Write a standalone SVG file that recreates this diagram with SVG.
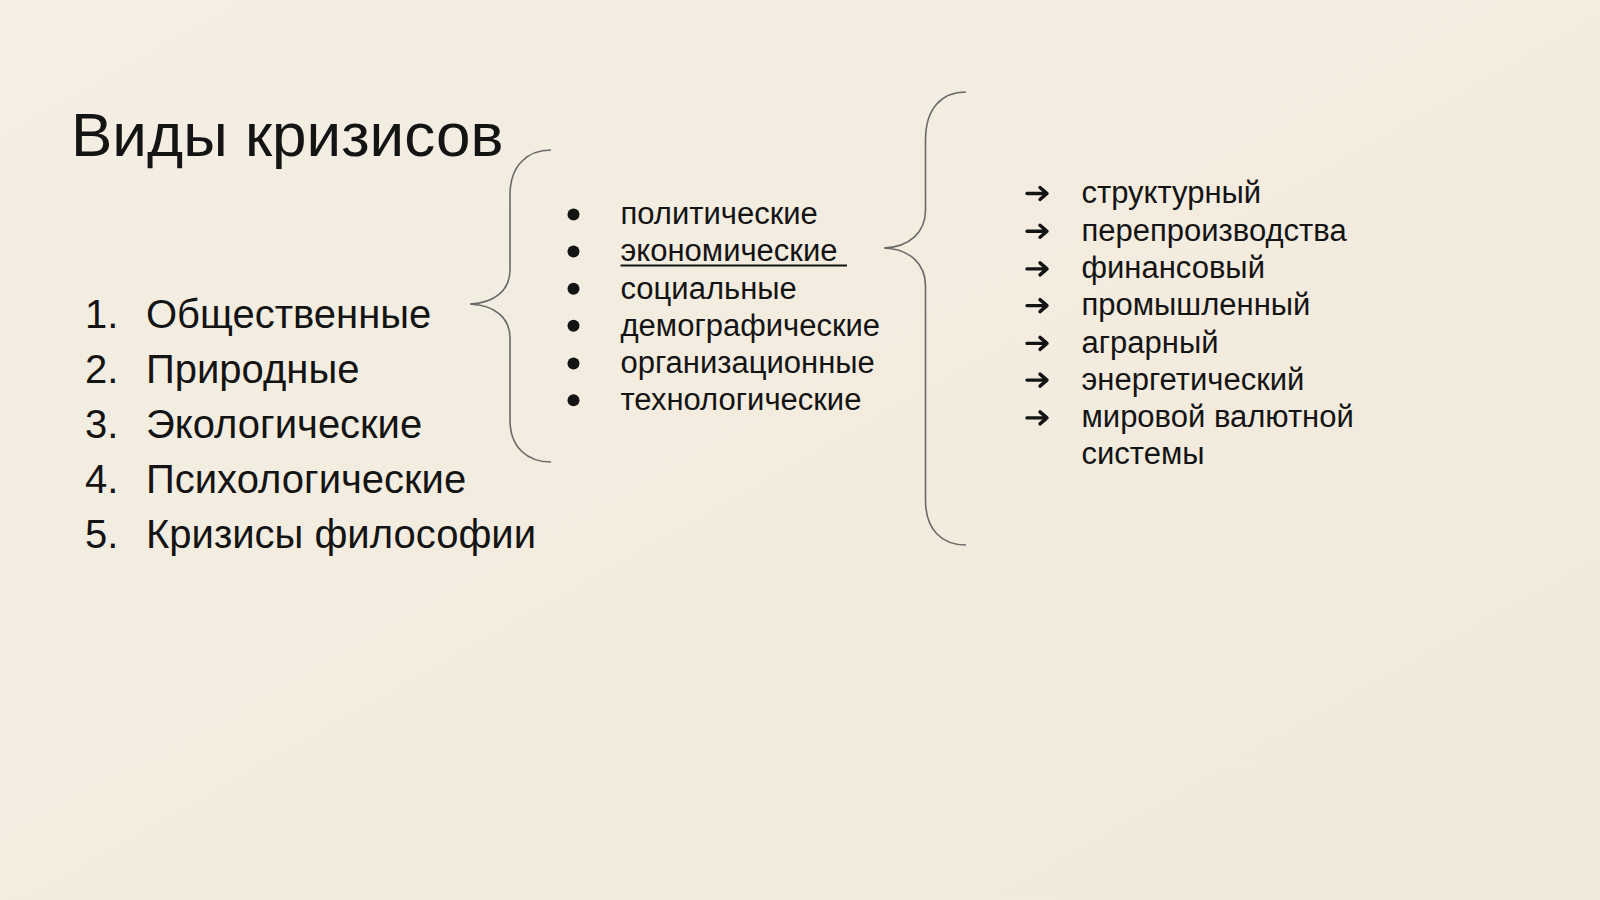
<svg xmlns="http://www.w3.org/2000/svg" width="1600" height="900" viewBox="0 0 1600 900">
<defs>
<style>
.t{font-family:"Liberation Sans",Arial,sans-serif;fill:#141414}
.title{font-size:62px}
.big{font-size:40px}
.mid{font-size:31px}
.brace{fill:none;stroke:#6a6a6a;stroke-width:1.6}
.arr{fill:none;stroke:#141414;stroke-width:3.4;stroke-linecap:round;stroke-linejoin:round}
</style>
<linearGradient id="bg" x1="0" y1="0" x2="1" y2="1">
<stop offset="0" stop-color="#f4eee3"/>
<stop offset="1" stop-color="#f1e9da"/>
</linearGradient>
</defs>
<rect width="1600" height="900" fill="url(#bg)"/>
<g id="title"><text class="t title" x="71" y="156">Виды кризисов</text></g>
<g id="list-main" class="t big">
<text x="85" y="327.5">1.</text><text x="146" y="327.5">Общественные</text>
<text x="85" y="382.6">2.</text><text x="146" y="382.6">Природные</text>
<text x="85" y="437.7">3.</text><text x="146" y="437.7">Экологические</text>
<text x="85" y="492.8">4.</text><text x="146" y="492.8">Психологические</text>
<text x="85" y="547.9">5.</text><text x="146" y="547.9">Кризисы философии</text>
</g>
<g id="connectors">
<path id="brace1" class="brace" d="M551,150 C528,150 510,165 510,195 L510,270 C510,290 495,303 470,304 C495,305 510,318 510,338 L510,420 C510,448 528,462 551,462"/>
<path id="brace2" class="brace" d="M966,92 C942,92 925.5,108 925.5,140 L925.5,210 C925.5,232 910,247 884,248 C910,249 925.5,264 925.5,286 L925.5,500 C925.5,530 942,545 966,545"/>
</g>
<g id="list-social">
<g fill="#141414">
<circle cx="573.5" cy="214.5" r="6"/>
<circle cx="573.5" cy="251.5" r="6"/>
<circle cx="573.5" cy="288.8" r="6"/>
<circle cx="573.5" cy="325.7" r="6"/>
<circle cx="573.5" cy="363.4" r="6"/>
<circle cx="573.5" cy="400.2" r="6"/>
</g>
<g class="t mid">
<text x="620.5" y="224.4">политические</text>
<text x="620.5" y="261.4">экономические</text>
<text x="620.5" y="298.7">социальные</text>
<text x="620.5" y="335.6">демографические</text>
<text x="620.5" y="373.3">организационные</text>
<text x="620.5" y="410.1">технологические</text>
</g>
<line x1="620.5" y1="265.5" x2="847" y2="265.5" stroke="#141414" stroke-width="2"/>
</g>
<g id="list-economic">
<g class="arr">
<path d="M1027,193.5 H1047 M1040,187.5 L1047,193.5 L1040,199.5"/>
<path d="M1027,231.2 H1047 M1040,225.2 L1047,231.2 L1040,237.2"/>
<path d="M1027,268.9 H1047 M1040,262.9 L1047,268.9 L1040,274.9"/>
<path d="M1027,305.6 H1047 M1040,299.6 L1047,305.6 L1040,311.6"/>
<path d="M1027,343.4 H1047 M1040,337.4 L1047,343.4 L1040,349.4"/>
<path d="M1027,380.1 H1047 M1040,374.1 L1047,380.1 L1040,386.1"/>
<path d="M1027,417.9 H1047 M1040,411.9 L1047,417.9 L1040,423.9"/>
</g>
<g class="t mid">
<text x="1081.5" y="203">структурный</text>
<text x="1081.5" y="240.7">перепроизводства</text>
<text x="1081.5" y="278.4">финансовый</text>
<text x="1081.5" y="315.1">промышленный</text>
<text x="1081.5" y="352.9">аграрный</text>
<text x="1081.5" y="389.6">энергетический</text>
<text x="1081.5" y="427.4">мировой валютной</text>
<text x="1081.5" y="464.1">системы</text>
</g>
</g>
</svg>
